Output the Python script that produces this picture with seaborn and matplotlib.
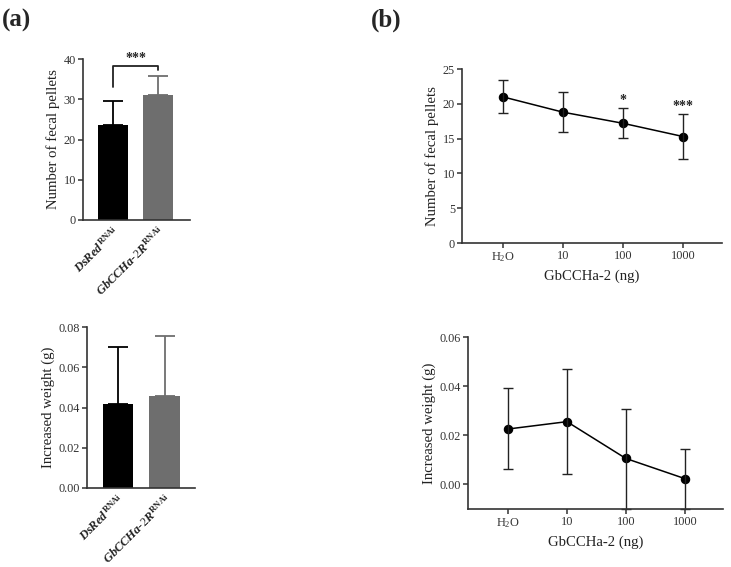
import numpy as np
import pandas as pd
import matplotlib
matplotlib.use("Agg")
import matplotlib.pyplot as plt
import seaborn as sns

# ---- data ----
genotypes = ["DsRed", "GbCCHa-2R"]
genotype_labels = [r"$\mathit{DsRed}^{\mathbf{RNAi}}$", r"$\mathit{GbCCHa\text{-}2R}^{\mathbf{RNAi}}$"]
pellets_mean = [23.5, 31.0]
pellets_upper = [29.5, 35.7]
weight_mean = [0.0415, 0.0455]
weight_upper = [0.0703, 0.0757]
bar_colors = ["#000000", "#6e6e6e"]

doses = ["H2O", "10", "100", "1000"]
dose_labels = [r"H$_2$O", "10", "100", "1000"]
dose_pellets = [21.0, 18.8, 17.2, 15.3]
dose_pellets_lo = [18.7, 15.9, 15.1, 12.1]
dose_pellets_hi = [23.4, 21.7, 19.4, 18.6]
dose_pellets_sig = ["", "", "*", "***"]
dose_weight = [0.0225, 0.0255, 0.0105, 0.0023]
dose_weight_lo = [0.0060, 0.0042, -0.0100, -0.0100]
dose_weight_hi = [0.0392, 0.0468, 0.0307, 0.0143]

sns.set_theme(style="ticks")
plt.rcParams["font.family"] = ["Liberation Serif", "DejaVu Serif"]
plt.rcParams["mathtext.fontset"] = "custom"
plt.rcParams["mathtext.rm"] = "Liberation Serif"
plt.rcParams["mathtext.it"] = "Liberation Serif:italic:bold"
plt.rcParams["mathtext.bf"] = "Liberation Serif:bold"
plt.rcParams["axes.linewidth"] = 1.2

fig = plt.figure(figsize=(7.31, 5.67), dpi=100)
W, H = 731, 567

def add_ax(x0, y0, x1, y1):
    return fig.add_axes([x0 / W, 1 - y1 / H, (x1 - x0) / W, (y1 - y0) / H])

tick_fs = 8.8
label_fs = 10.6

def style(ax):
    sns.despine(ax=ax)
    ax.tick_params(axis="both", labelsize=tick_fs, length=3.5, width=1.1,
                   color="#333333", labelcolor="#333333", pad=1.5)
    ax.spines["left"].set_color("#333333")
    ax.spines["bottom"].set_color("#333333")

def bar_panel(ax, means, upper, ylim, yticks, fmt, ylabel, width):
    df = pd.DataFrame({"g": genotypes, "v": means})
    sns.barplot(data=df, x="g", y="v", hue="g", palette=bar_colors, legend=False,
                errorbar=None, width=width, linewidth=0, saturation=1, ax=ax)
    for i, (m, u) in enumerate(zip(means, upper)):
        ax.errorbar(i, m, yerr=[[0], [u - m]], color=bar_colors[i], capsize=7,
                    elinewidth=1.3, capthick=1.3, fmt="none")
    ax.set_ylim(*ylim)
    ax.set_yticks(yticks)
    ax.set_yticklabels([fmt.format(t) for t in yticks])
    ax.set_xlabel("")
    ax.set_ylabel(ylabel, fontsize=label_fs, color="#222222", labelpad=3)
    style(ax)
    ax.tick_params(axis="x", length=0, pad=3)
    ax.set_xticks(range(len(genotypes)))
    ax.set_xticklabels(genotype_labels, rotation=45, ha="right", rotation_mode="anchor",
                       fontsize=9, color="#222222")

# (a) top
ax1 = add_ax(83, 59, 190, 220)
bar_panel(ax1, pellets_mean, pellets_upper, (0, 40), [0, 10, 20, 30, 40], "{:.0f}",
          "Number of fecal pellets", 0.667)
ax1.set_xlim(-0.667, 1.71)
ax1.plot([0, 0, 1, 1], [33.0, 38.3, 38.3, 37.2], color="#222222", lw=1.3, clip_on=False)
ax1.text(0.5, 38.6, "***", ha="center", va="bottom", fontsize=10, fontweight="bold")

# (a) bottom
ax2 = add_ax(87, 327, 195, 488)
bar_panel(ax2, weight_mean, weight_upper, (0, 0.08), [0, 0.02, 0.04, 0.06, 0.08], "{:.2f}",
          "Increased weight (g)", 0.65)
ax2.set_xlim(-0.667, 1.656)

def line_panel(ax, vals, lo, hi, ylim, yticks, fmt, ylabel):
    df = pd.DataFrame({"d": doses, "v": vals})
    sns.pointplot(data=df, x="d", y="v", color="black", errorbar=None,
                  markersize=6, linewidth=1.1, ax=ax)
    for i, (v, l, h) in enumerate(zip(vals, lo, hi)):
        ax.errorbar(i, v, yerr=[[v - l], [h - v]], color="#222222", capsize=3.5,
                    elinewidth=1.0, capthick=1.0, fmt="none", clip_on=False)
    ax.set_ylim(*ylim)
    ax.set_yticks(yticks)
    ax.set_yticklabels([fmt.format(t) for t in yticks])
    ax.set_xlim(-0.68, 3.65)
    ax.set_xticks(range(len(doses)))
    ax.set_xticklabels(dose_labels)
    ax.set_xlabel("GbCCHa-2 (ng)", fontsize=label_fs, color="#222222", labelpad=4)
    ax.set_ylabel(ylabel, fontsize=label_fs, color="#222222", labelpad=3)
    style(ax)

# (b) top
ax3 = add_ax(462, 69, 722, 243)
line_panel(ax3, dose_pellets, dose_pellets_lo, dose_pellets_hi, (0, 25),
           [0, 5, 10, 15, 20, 25], "{:.0f}", "Number of fecal pellets")
for i, s in enumerate(dose_pellets_sig):
    if s:
        ax3.text(i, dose_pellets_hi[i] + 0.1, s, ha="center", va="bottom",
                 fontsize=10, fontweight="bold")

# (b) bottom
ax4 = add_ax(468, 337, 723, 509)
line_panel(ax4, dose_weight, dose_weight_lo, dose_weight_hi, (-0.0101, 0.06),
           [0, 0.02, 0.04, 0.06], "{:.2f}", "Increased weight (g)")
ax4.spines["left"].set_bounds(-0.0101, 0.06)

fig.text(2 / W, 1 - 20 / H, "(a)", fontsize=18, fontweight="bold", va="center", ha="left")
fig.text(371 / W, 1 - 20 / H, "(b)", fontsize=18, fontweight="bold", va="center", ha="left")

fig.savefig("out.png", dpi=100)
